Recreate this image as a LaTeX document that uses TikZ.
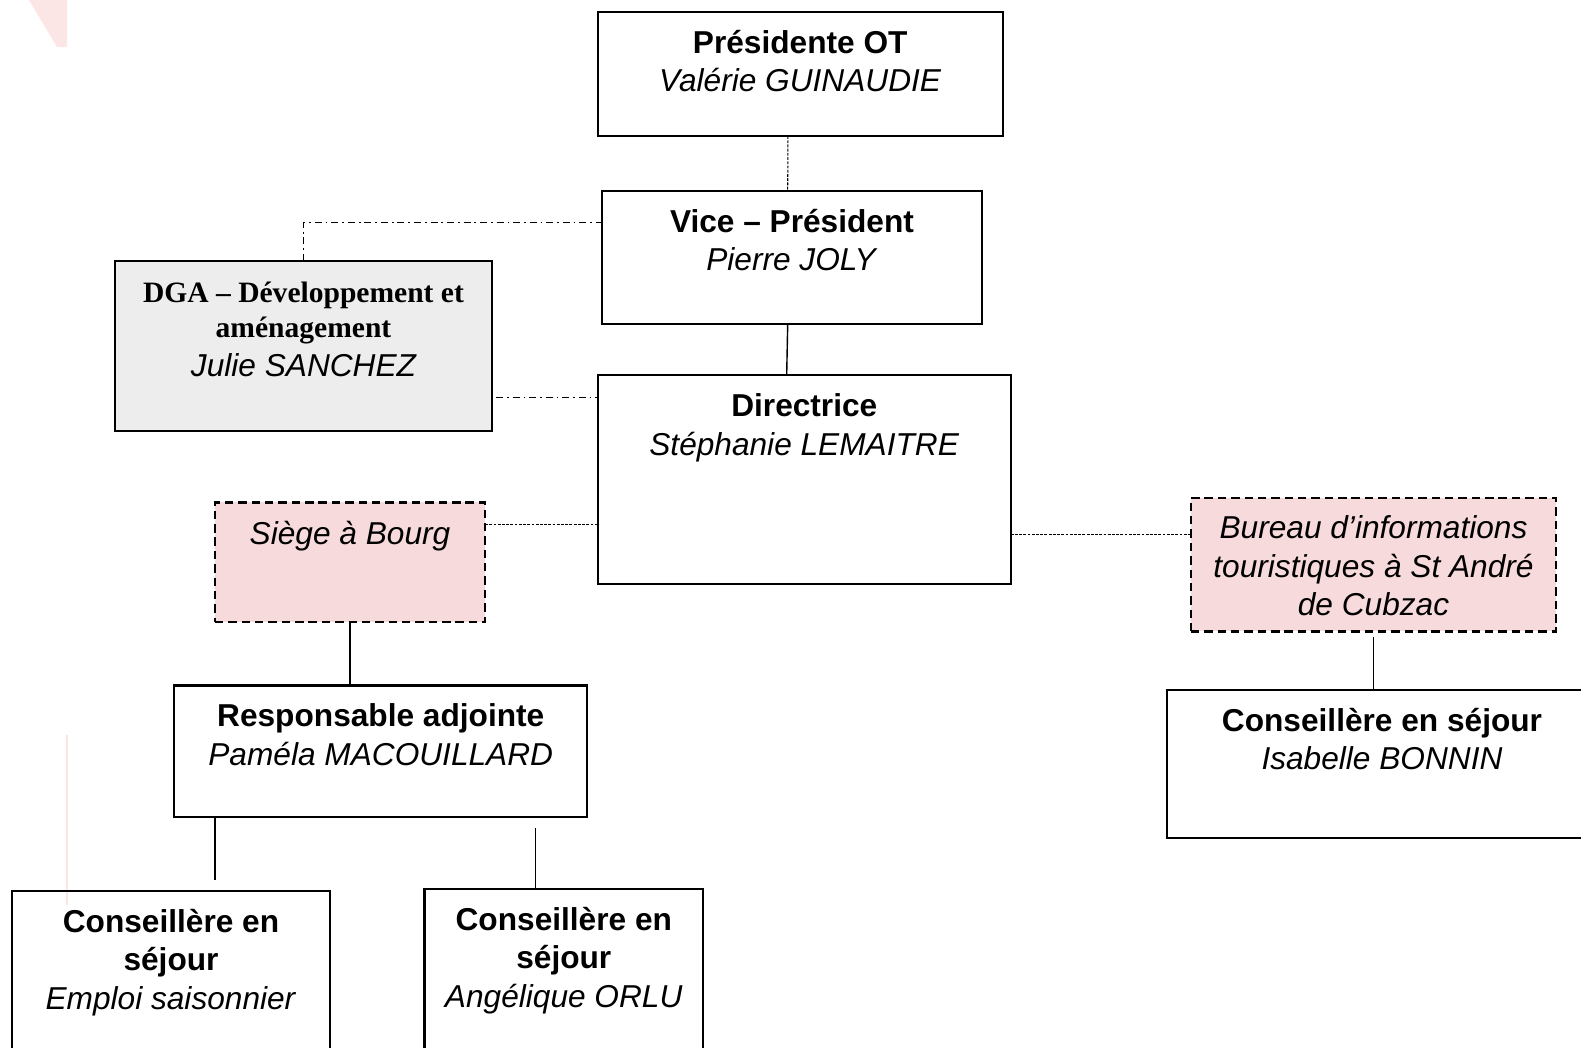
\documentclass[tikz,border=0pt]{standalone}
\usepackage{fontspec}
\setmainfont{Liberation Sans}
\newfontfamily\timesfont{Liberation Serif}
\usepackage{xcolor}
\usetikzlibrary{calc}
\definecolor{sitepink}{RGB}{247,218,219}
\definecolor{dgagray}{RGB}{237,237,237}
\definecolor{markpink}{RGB}{251,229,229}

\begin{document}
\begin{tikzpicture}[x=0.01cm,y=-0.01cm,
    orgbox/.style={draw,line width=0.6pt,inner sep=0pt,outer sep=0pt},
    sitebox/.style={orgbox,fill=sitepink,dash pattern=on 2.4pt off 1.4pt},
    orgtxt/.style={anchor=base,align=center,inner sep=0pt,font=\fontsize{9}{10.9}\selectfont},
    link/.style={line width=0.4pt},
    dotlink/.style={line width=0.3pt,dash pattern=on 0.8pt off 0.4pt},
    dgalink/.style={line width=0.35pt,dash pattern=on 2pt off 1.1pt on 0.5pt off 1.1pt}]
    \clip (0,0) rectangle (1581,1047);

    % faint marks of the page background
    \fill[markpink] (29,0) -- (67,0) -- (67,47) -- (57,47) -- cycle;
    \draw[markpink,line width=0.4pt] (67,735) -- (67,905);

    % boxes
    \node[orgbox,minimum width=4.045cm,minimum height=1.24cm] (pres) at (800.25,74) {};
    \node[orgbox,minimum width=3.8cm,minimum height=1.332cm] (vice) at (792,257.2) {};
    \node[orgbox,fill=dgagray,minimum width=3.77cm,minimum height=1.697cm] (dga) at (303.5,345.85) {};
    \node[orgbox,minimum width=4.126cm,minimum height=2.088cm] (dir) at (804.3,479.6) {};
    \node[sitebox,minimum width=2.7cm,minimum height=1.195cm] (siege) at (350,562.25) {};
    \node[sitebox,minimum width=3.65cm,minimum height=1.334cm] (bureau) at (1373.5,564.7) {};
    \node[orgbox,minimum width=4.3cm,minimum height=1.48cm] (isabelle) at (1382,764) {};
    \node[orgbox,minimum width=4.125cm,minimum height=1.315cm] (resp) at (380.75,751.25) {};
    \node[orgbox,minimum width=3.18cm,minimum height=2.09cm] (emploi) at (171,995.5) {};
    \node[orgbox,minimum width=2.784cm,minimum height=2.11cm] (angel) at (563.8,994.5) {};

    % texts (base = last line)
    \node[orgtxt] (pres-t) at ([yshift=-0.798cm]pres.north) {\textbf{Présidente OT}\\\textit{Valérie GUINAUDIE}};
    \node[orgtxt] (vice-t) at ([yshift=-0.798cm]vice.north) {\textbf{Vice – Président}\\\textit{Pierre JOLY}};
    \node[orgtxt,font=\timesfont\bfseries\fontsize{8.4}{10}\selectfont] (dga-t) at ([yshift=-1.151cm]dga.north)
        {DGA – Développement et\\aménagement\\[0.9pt]{\normalfont\itshape\fontsize{9}{10.9}\selectfont Julie SANCHEZ}};
    \node[orgtxt] (dir-t) at ([yshift=-0.798cm]dir.north) {\textbf{Directrice}\\\textit{Stéphanie LEMAITRE}};
    \node[orgtxt] (siege-t) at ([yshift=-0.415cm]siege.north) {\textit{Siège à Bourg}};
    \node[orgtxt] (bureau-t) at ([yshift=-1.176cm]bureau.north) {\textit{Bureau d’informations}\\\textit{touristiques à St André}\\\textit{de Cubzac}};
    \node[orgtxt] (isabelle-t) at ([yshift=-0.798cm]isabelle.north) {\textbf{Conseillère en séjour}\\\textit{Isabelle BONNIN}};
    \node[orgtxt] (resp-t) at ([yshift=-0.798cm]resp.north) {\textbf{Responsable adjointe}\\\textit{Paméla MACOUILLARD}};
    \node[orgtxt] (emploi-t) at ([yshift=-1.181cm]emploi.north) {\textbf{Conseillère en}\\\textbf{séjour}\\\textit{Emploi saisonnier}};
    \node[orgtxt] (angel-t) at ([yshift=-1.181cm]angel.north) {\textbf{Conseillère en}\\\textbf{séjour}\\\textit{Angélique ORLU}};

    % connectors
    \coordinate (dgain) at ([yshift=0.345cm]vice.west);
    \coordinate (dgaout) at ([xshift=0.04cm,yshift=-0.515cm]dga.east);
    \coordinate (siegeout) at ([yshift=0.377cm]siege.east);
    \coordinate (dirout) at ([yshift=-0.55cm]dir.east);
    \coordinate (empin) at (214.8,880);
    \coordinate (angout) at (535.6,828);

    \draw[dotlink] ([xshift=-0.123cm]pres.south) -- ([xshift=-0.043cm]vice.north);
    \draw[link] ([xshift=-0.043cm]vice.south) -- ([xshift=-0.176cm]dir.north);
    \draw[dgalink] (dga.north) |- (dgain);
    \draw[dgalink] (dgaout) -- (dgaout -| dir.west);
    \draw[dotlink] (siegeout) -- (siegeout -| dir.west);
    \draw[dotlink] (dirout) -- (dirout -| bureau.west);
    \draw[link] ([yshift=-0.06cm]bureau.south) -- (bureau.south |- isabelle.north);
    \draw[link] (siege.south) -- (siege.south |- resp.north);
    \draw[link] (resp.south -| empin) -- (empin);
    \draw[link] (angout) -- (angout |- angel.north);
\end{tikzpicture}
\end{document}
